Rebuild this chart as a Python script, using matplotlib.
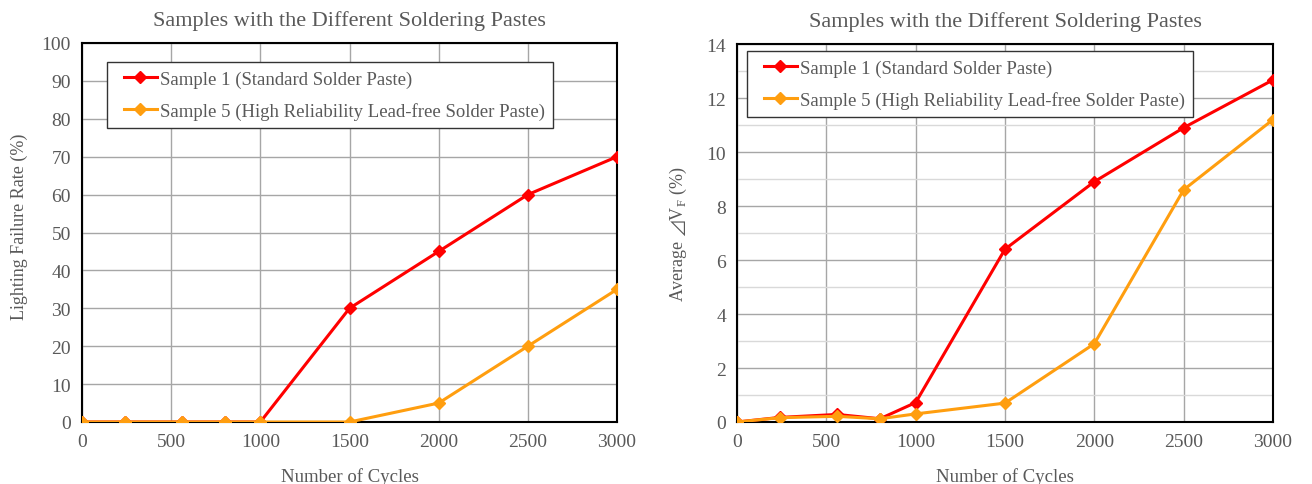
#!/usr/bin/env python3
# -*- coding: utf-8 -*-

import matplotlib
matplotlib.use("Agg")
import matplotlib.pyplot as plt
from matplotlib.ticker import MultipleLocator
from matplotlib.legend_handler import HandlerLine2D

# data
cycles = [0, 240, 560, 800, 1000, 1500, 2000, 2500, 3000]

fail_s1 = [0, 0, 0, 0, 0, 30, 45, 60, 70]
fail_s5 = [0, 0, 0, 0, 0, 0, 5, 20, 35]

dvf_s1 = [0, 0.17, 0.28, 0.12, 0.72, 6.4, 8.9, 10.9, 12.67]
dvf_s5 = [0, 0.16, 0.21, 0.12, 0.30, 0.70, 2.9, 8.6, 11.2]

label_s1 = "Sample 1 (Standard Solder Paste)"
label_s5 = "Sample 5 (High Reliability Lead-free Solder Paste)"
title = "Samples with the Different Soldering Pastes"

RED = "#FF0000"
ORANGE = "#FF9E0F"
TXT = "#595959"


def main():
    plt.rcParams['font.family'] = ['Liberation Serif', 'DejaVu Serif', 'DejaVu Sans']
    plt.rcParams['mathtext.fontset'] = 'custom'
    plt.rcParams['mathtext.rm'] = 'Liberation Serif'
    plt.rcParams['mathtext.fallback'] = 'stix'

    fig = plt.figure(figsize=(13.12, 4.85), dpi=100)
    ax1 = fig.add_axes([82 / 1312, 1 - 423 / 485, 535 / 1312, 379 / 485])
    ax2 = fig.add_axes([737 / 1312, 1 - 423 / 485, 536 / 1312, 378 / 485])

    legkw = dict(loc='upper left', fontsize=13.5, fancybox=False, framealpha=1,
                 edgecolor='#333333', borderpad=0.45, labelspacing=0.75,
                 handlelength=2.2, handletextpad=0.15, borderaxespad=0,
                 handler_map={plt.Line2D: HandlerLine2D(xpad=0.45)})

    # left: failure rate
    ax1.plot(cycles, fail_s1, color=RED, lw=2.2, marker='D', ms=6.5, label=label_s1, zorder=3)
    ax1.plot(cycles, fail_s5, color=ORANGE, lw=2.2, marker='D', ms=6.5, label=label_s5, zorder=4)
    ax1.set_ylim(0, 100)
    ax1.yaxis.set_major_locator(MultipleLocator(10))
    ax1.set_ylabel("Lighting Failure Rate (%)", fontsize=13, color=TXT)
    ax1.yaxis.set_label_coords(-0.1, 0.518)
    leg1 = ax1.legend(bbox_to_anchor=(0.047, 0.95), **legkw)

    # right: average delta VF
    ax2.plot(cycles, dvf_s1, color=RED, lw=2.2, marker='D', ms=6.5, label=label_s1, zorder=3)
    ax2.plot(cycles, dvf_s5, color=ORANGE, lw=2.2, marker='D', ms=6.5, label=label_s5, zorder=4)
    ax2.set_ylim(0, 14)
    ax2.yaxis.set_major_locator(MultipleLocator(2))
    ax2.yaxis.set_minor_locator(MultipleLocator(1))
    ax2.grid(True, which='minor', axis='y', color='#D9D9D9', lw=1, zorder=0)
    ax2.set_ylabel("Average $\u22bf\\mathrm{V}_{\\mathrm{F}}$ (%)", fontsize=13, color=TXT, labelpad=12)
    leg2 = ax2.legend(bbox_to_anchor=(0.019, 0.981), **legkw)

    for ax, leg in ((ax1, leg1), (ax2, leg2)):
        ax.set_xlim(0, 3000)
        ax.xaxis.set_major_locator(MultipleLocator(500))
        ax.grid(True, which='major', color='#A6A6A6', lw=1, zorder=0)
        ax.set_axisbelow(True)
        ax.tick_params(which='both', length=0, labelsize=14, labelcolor=TXT, pad=8)
        ax.set_xlabel("Number of Cycles", fontsize=13.5, color=TXT, labelpad=12)
        ax.set_title(title, fontsize=16, color=TXT, pad=13)
        for s in ax.spines.values():
            s.set_color('black')
            s.set_linewidth(1.5)
        for t in leg.get_texts():
            t.set_color(TXT)
        leg.get_frame().set_linewidth(1.0)
        leg.set_zorder(5)

    fig.savefig("out.png", dpi=100)


if __name__ == "__main__":
    main()
